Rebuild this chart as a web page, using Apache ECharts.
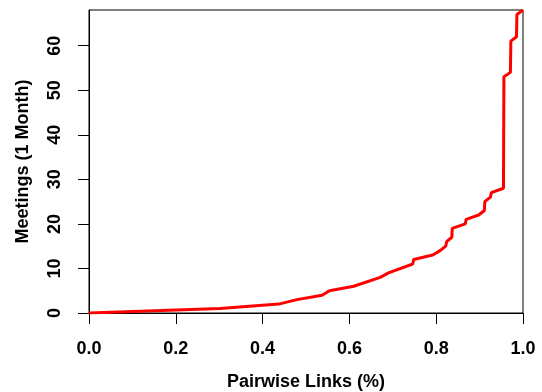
<!DOCTYPE html>
<html>
<head>
<meta charset="utf-8">
<script src="https://cdn.jsdelivr.net/npm/echarts@6/dist/echarts.min.js"></script>
<style>
  html, body { margin: 0; padding: 0; background: #fff; }
  #chart { width: 542px; height: 392px; }
</style>
</head>
<body>
<div id="chart"></div>
<script>
// share of pairwise links (x) vs meetings in one month (y)
const linkShare = [0, 0.302, 0.437, 0.479, 0.537, 0.554, 0.61, 0.671, 0.69, 0.746, 0.748, 0.792, 0.809,
  0.822, 0.824, 0.836, 0.837, 0.867, 0.869, 0.898, 0.911, 0.912, 0.925, 0.927, 0.955, 0.956,
  0.971, 0.972, 0.985, 0.986, 1.0];
const meetings = [0, 1, 2, 3, 4, 5, 6, 8, 9, 11, 12, 13, 14,
  15, 16, 17, 19, 20, 21, 22, 23, 25, 26, 27, 28, 53,
  54, 61, 62, 67, 68];
const yTicks = [0, 10, 20, 30, 40, 50, 60];

const FONT = 'Liberation Sans, Arial, sans-serif';
const chart = echarts.init(document.getElementById('chart'), null, { renderer: 'canvas' });

chart.setOption({
  animation: false,
  backgroundColor: '#fff',
  grid: {
    left: 89, right: 19, top: 10, bottom: 79,
    outerBoundsMode: 'none',
    show: true, borderColor: '#000', borderWidth: 1,
  },
  xAxis: {
    type: 'value',
    min: 0, max: 1, interval: 0.2,
    name: 'Pairwise Links (%)',
    nameLocation: 'middle',
    nameGap: 60,
    nameTextStyle: { color: '#000', fontFamily: FONT, fontWeight: 'bold', fontSize: 18 },
    axisLine: { show: true, lineStyle: { color: '#000', width: 1 } },
    axisTick: { show: true, inside: false, length: 11, lineStyle: { color: '#000' } },
    axisLabel: {
      color: '#000', fontFamily: FONT, fontWeight: 'bold', fontSize: 18, margin: 27,
      formatter: (v) => v.toFixed(1),
    },
    splitLine: { show: false },
  },
  yAxis: {
    type: 'value',
    min: 0, max: 68,
    name: 'Meetings (1 Month)',
    nameLocation: 'middle',
    nameGap: 57,
    nameTextStyle: { color: '#000', fontFamily: FONT, fontWeight: 'bold', fontSize: 18 },
    axisLine: { show: true, lineStyle: { color: '#000', width: 1 } },
    axisTick: { show: true, inside: false, length: 11, customValues: yTicks, lineStyle: { color: '#000' } },
    axisLabel: {
      color: '#000', fontFamily: FONT, fontWeight: 'bold', fontSize: 18, margin: 25,
      rotate: 90, customValues: yTicks,
    },
    splitLine: { show: false },
  },
  series: [{
    type: 'line',
    data: linkShare.map((x, i) => [x, meetings[i]]),
    symbol: 'none',
    lineStyle: { color: '#ff0000', width: 3 },
  }],
});
</script>
</body>
</html>
